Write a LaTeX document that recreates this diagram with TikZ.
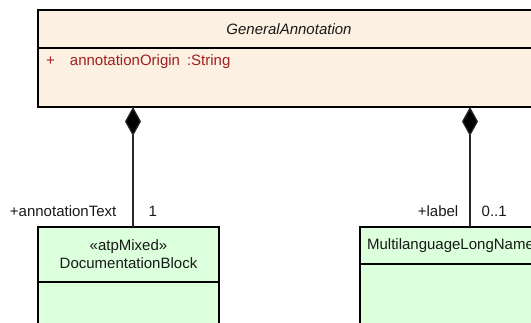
\documentclass[tikz,border=0pt]{standalone}
\usepackage{fontspec}
\setmainfont{Liberation Sans}
\usetikzlibrary{positioning}
\usetikzlibrary{arrows.meta}

\definecolor{abstractfill}{RGB}{251,240,225}
\definecolor{classfill}{RGB}{220,255,220}
\definecolor{attrred}{RGB}{160,32,32}
\definecolor{umlline}{RGB}{40,40,40}

\tikzset{
  umlbox/.style={draw=black, line width=1.2pt, inner sep=0pt, outer sep=0pt,
    anchor=north west, minimum width=181pt, align=center, text=black!90},
  abstractbox/.style={umlbox, fill=abstractfill, minimum width=502pt},
  concretebox/.style={umlbox, fill=classfill},
  composition/.style={draw=umlline, line width=1.2pt,
    -{Diamond[length=29pt,width=16pt,fill=black]}},
  rolelabel/.style={inner sep=0pt, text=black!90}
}

\begin{document}
\begin{tikzpicture}[x=1pt, y=-1pt, font=\fontsize{15}{18}\selectfont]
\useasboundingbox (0,0) rectangle (531,323);
\clip (0,0) rectangle (531,323);
\node[abstractbox, minimum height=38pt] (gahead) at (38,10) {\textit{GeneralAnnotation}};
\node[abstractbox, minimum height=59pt, below=0pt of gahead.south west, anchor=north west] (gabody) {};
\node[inner sep=0pt, anchor=west, text=attrred] (gaorigin) at (46,62)
  {+\hspace{15pt}annotationOrigin\hspace{7pt}:String};
\node[concretebox, minimum height=55pt] (dochead) at (38,227)
  {\guillemotleft atpMixed\guillemotright\\[0pt]DocumentationBlock};
\node[concretebox, minimum height=60pt, below=0pt of dochead.south west, anchor=north west] (docbody) {};
\node[concretebox, minimum height=37pt] (mlhead) at (360,227) {MultilanguageLongName};
\node[concretebox, minimum height=80pt, below=0pt of mlhead.south west, anchor=north west] (mlbody) {};
% compositions
\draw[composition] ([xshift=4.5pt]dochead.north) -- ([xshift=4.5pt]dochead.north |- gabody.south);
\draw[composition] ([xshift=19.5pt]mlhead.north) -- ([xshift=19.5pt]mlhead.north |- gabody.south);
\node[rolelabel, anchor=base east] (doctext) at ([xshift=-12pt,yshift=10pt]dochead.north) {+annotationText};
\node[rolelabel, anchor=base west] (docmult) at ([xshift=20pt,yshift=10pt]dochead.north) {1};
\node[rolelabel, anchor=base east] (mllabel) at ([xshift=8pt,yshift=10pt]mlhead.north) {+label};
\node[rolelabel, anchor=base west] (mlmult) at ([xshift=31pt,yshift=10pt]mlhead.north) {0..1};
\end{tikzpicture}
\end{document}
